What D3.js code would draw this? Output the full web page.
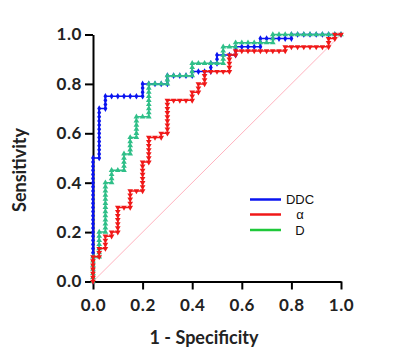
<!DOCTYPE html>
<html>
<head>
<meta charset="utf-8">
<script src="https://cdn.jsdelivr.net/npm/d3@7"></script>
<style>
  body { margin: 0; background: #fff; }
</style>
</head>
<body>
<div id="chart"></div>
<script>
"use strict";

// ROC curves: each point is [false positives, true positives] counted at one threshold
const nNeg = 40, nPos = 60;

const ddcPoints = [
  [0,0],[0,1],[0,2],[0,3],[0,4],[0,5],[0,6],[0,7],[0,8],[0,9],[0,10],[0,11],[0,12],[0,13],[0,14],[0,15],
  [0,16],[0,17],[0,18],[0,19],[0,20],[0,21],[0,22],[0,23],[0,24],[0,25],[0,26],[0,27],[0,28],[0,29],[0,30],
  [1,30],[1,31],[1,32],[1,33],[1,34],[1,35],[1,36],[1,37],[1,38],[1,39],[1,40],[1,41],[1,42],
  [2,42],[2,43],[2,44],[2,45],[3,45],[4,45],[5,45],[6,45],[7,45],[8,45],
  [8,46],[8,47],[8,48],[9,48],[10,48],[11,48],[12,48],[12,49],[12,50],
  [13,50],[14,50],[15,50],[16,50],[16,51],[17,51],[18,51],[19,51],[19,52],[19,53],[20,53],
  [20,54],[20,55],[21,55],[22,55],[23,55],[23,56],[23,57],[24,57],[25,57],[26,57],[27,57],
  [27,58],[27,59],[28,59],[29,59],[30,59],[31,59],[32,59],
  [32,60],[33,60],[34,60],[35,60],[36,60],[37,60],[38,60],[39,60],[40,60]
];

const alphaPoints = [
  [0,0],[0,1],[0,2],[0,3],[0,4],[0,5],[0,6],
  [1,6],[1,7],[1,8],[2,8],[2,9],[2,10],[2,11],[3,11],[3,12],
  [4,12],[4,13],[4,14],[4,15],[4,16],[4,17],[4,18],[5,18],[6,18],
  [6,19],[6,20],[6,21],[6,22],[7,22],[8,22],
  [8,23],[8,24],[8,25],[8,26],[8,27],[8,28],[8,29],
  [9,29],[9,30],[9,31],[9,32],[9,33],[9,34],[9,35],[10,35],[11,35],[11,36],
  [12,36],[12,37],[12,38],[12,39],[12,40],[12,41],[12,42],[12,43],[12,44],
  [13,44],[14,44],[15,44],[16,44],[16,45],[16,46],[17,46],[17,47],[17,48],
  [18,48],[18,49],[18,50],[18,51],[19,51],[20,51],[21,51],[22,51],
  [22,52],[22,53],[22,54],[22,55],[23,55],[23,56],
  [24,56],[25,56],[26,56],[27,56],[28,56],[29,56],[30,56],[31,56],[31,57],
  [32,57],[33,57],[34,57],[35,57],[36,57],[37,57],[38,57],[38,58],[38,59],[39,59],[39,60],[40,60]
];

const dPoints = [
  [0,0],[0,1],[0,2],[0,3],[0,4],[0,5],[0,6],
  [1,6],[1,7],[1,8],[1,9],[1,10],[1,11],[1,12],
  [2,12],[2,13],[2,14],[2,15],[2,16],[2,17],[2,18],[2,19],[2,20],[2,21],[2,22],[2,23],[2,24],
  [3,24],[3,25],[3,26],[3,27],[4,27],[5,27],
  [5,28],[5,29],[5,30],[5,31],[6,31],[6,32],[6,33],[6,34],[6,35],
  [7,35],[7,36],[7,37],[7,38],[7,39],[7,40],[8,40],[9,40],
  [9,41],[9,42],[9,43],[9,44],[9,45],[9,46],[9,47],[9,48],
  [10,48],[11,48],[12,48],[12,49],[12,50],
  [13,50],[14,50],[15,50],[16,50],[16,51],[16,52],[16,53],
  [17,53],[18,53],[19,53],[20,53],[21,53],[21,54],[21,55],[21,56],[21,57],
  [22,57],[23,57],[23,58],[24,58],[25,58],[26,58],[27,58],[28,58],[29,58],[29,59],[29,60],
  [30,60],[31,60],[32,60],[33,60],[34,60],[35,60],[36,60],[37,60],[38,60],[39,60],[40,60]
];

const tickValues = [0, 0.2, 0.4, 0.6, 0.8, 1.0];
const legendLabels = ["DDC", "α", "D"];

const svgWidth = 400, svgHeight = 363;

const svg = d3.select("#chart")
  .append("svg")
  .attr("width", svgWidth)
  .attr("height", svgHeight);

const xScale = d3.scaleLinear().domain([0, 1]).range([93, 341]);
const yScale = d3.scaleLinear().domain([0, 1]).range([281.5, 34.5]);

// axes
const xAxis = d3.axisBottom(xScale).tickValues(tickValues).tickFormat(d3.format(".1f"))
  .tickSizeInner(8).tickSizeOuter(0).tickPadding(9);
const yAxis = d3.axisLeft(yScale).tickValues(tickValues).tickFormat(d3.format(".1f"))
  .tickSizeInner(8).tickSizeOuter(0).tickPadding(3);

const gx = svg.append("g").attr("transform", `translate(0, ${yScale(0)})`).call(xAxis);
const gy = svg.append("g").attr("transform", `translate(${xScale(0)}, 0)`).call(yAxis);

[gx, gy].forEach(g => {
  g.selectAll("path, line").attr("stroke", "#000").attr("stroke-width", 2);
  g.selectAll("text")
    .attr("font-family", "Lato, sans-serif")
    .attr("font-weight", "bold")
    .attr("font-size", "17px")
    .attr("letter-spacing", "0.6px")
    .attr("fill", "#222");
});

svg.append("text")
  .attr("x", 204)
  .attr("y", 344)
  .attr("text-anchor", "middle")
  .attr("font-family", "Lato, sans-serif")
  .attr("font-weight", "bold")
  .attr("font-size", "18px")
  .attr("fill", "#222")
  .text("1 - Specificity");

svg.append("text")
  .attr("transform", "rotate(-90)")
  .attr("x", -170)
  .attr("y", 26)
  .attr("text-anchor", "middle")
  .attr("font-family", "Lato, sans-serif")
  .attr("font-weight", "bold")
  .attr("font-size", "18px")
  .attr("fill", "#222")
  .text("Sensitivity");

// reference diagonal
svg.append("line")
  .attr("x1", xScale(0)).attr("y1", yScale(0))
  .attr("x2", xScale(1)).attr("y2", yScale(1))
  .attr("stroke", "#ffb3bf")
  .attr("stroke-width", 1);

const line = d3.line()
  .x(d => xScale(d[0] / nNeg))
  .y(d => yScale(d[1] / nPos));

const series = [
  { points: ddcPoints, color: "#0a14f0", symbol: d3.symbolDiamond, size: 13, rotate: 0 },
  { points: dPoints, color: "#2fbf88", symbol: d3.symbolTriangle, size: 14, rotate: 0 },
  { points: alphaPoints, color: "#f01818", symbol: d3.symbolTriangle, size: 14, rotate: 180 }
];

series.forEach(s => {
  svg.append("path")
    .datum(s.points)
    .attr("fill", "none")
    .attr("stroke", s.color)
    .attr("stroke-width", 1.5)
    .attr("d", line);

  svg.append("g")
    .selectAll("path")
    .data(s.points)
    .enter()
    .append("path")
    .attr("transform", d => `translate(${xScale(d[0] / nNeg)}, ${yScale(d[1] / nPos)}) rotate(${s.rotate})`)
    .attr("d", d3.symbol().type(s.symbol).size(s.size))
    .attr("fill", s.color);
});

// legend
const legendColors = ["#0a14f0", "#f01818", "#1fc83a"];
const legendY = [199.5, 214.5, 230];
const legend = svg.append("g");
legendLabels.forEach((label, i) => {
  legend.append("line")
    .attr("x1", 250).attr("x2", 281)
    .attr("y1", legendY[i]).attr("y2", legendY[i])
    .attr("stroke", legendColors[i])
    .attr("stroke-width", 2.5);
  legend.append("text")
    .attr("x", 300)
    .attr("y", legendY[i] + 4.5)
    .attr("text-anchor", "middle")
    .attr("font-family", "Liberation Sans, Arial, sans-serif")
    .attr("font-size", "13px")
    .attr("fill", "#111")
    .text(label);
});
</script>
</body>
</html>
